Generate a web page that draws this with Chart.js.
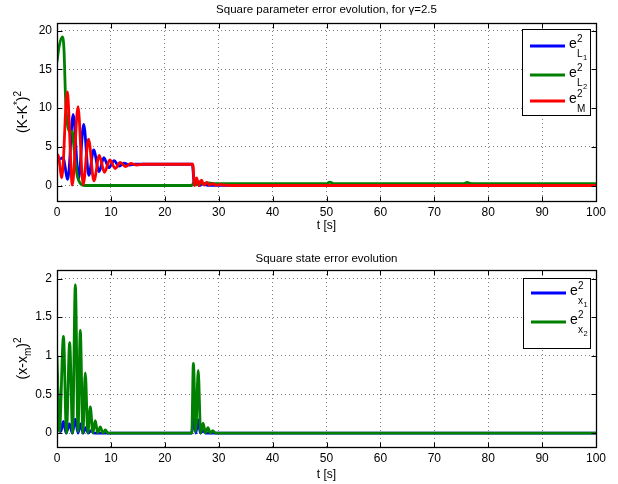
<!DOCTYPE html>
<html>
<head>
<meta charset="utf-8">
<script src="https://cdn.jsdelivr.net/npm/chart.js@4.4.0/dist/chart.umd.min.js"></script>
<style>
  html, body { margin: 0; padding: 0; background: #fff; }
  #wrap { position: relative; width: 618px; height: 484px; }
  #wrap canvas { position: absolute; left: 0; }
</style>
</head>
<body>
<div id="wrap">
  <canvas id="paramChart" width="618" height="242" style="top:0"></canvas>
  <canvas id="stateChart" width="618" height="242" style="top:242px"></canvas>
</div>
<script>
const FONT = '"Liberation Sans", Arial, Helvetica, sans-serif';

// tick values
const xTicks = [0, 10, 20, 30, 40, 50, 60, 70, 80, 90, 100];
const paramTicks = [0, 5, 10, 15, 20];
const stateTicks = [0, 0.5, 1, 1.5, 2];

// top plot: square parameter errors (time [s], value)
const eL1Time = [0, 0.5, 1.1, 2.0, 3.0, 4.0, 4.95, 5.9, 6.8, 7.8, 8.7, 9.6, 10.6, 11.5, 12.4, 13.4, 14.5, 25.1, 25.5, 26.0, 26.5, 27.0, 28, 100];
const eL1Vals = [4.0, 3.4, 3.6, 0.8, 9.2, 0.9, 7.9, 1.3, 4.6, 1.8, 3.6, 2.3, 3.2, 2.5, 2.9, 2.65, 2.75, 2.75, 0.05, 0.4, 0.0, 0.2, 0.03, 0.03];

const eL2Time = [0, 0.4, 1.0, 1.3, 1.6, 1.9, 2.3, 2.8, 3.2, 3.7, 4.3, 5.2, 25.0, 25.4, 25.9, 26.5, 27.1, 27.8, 29, 50, 50.6, 51.3, 75.5, 76.1, 76.8, 100];
const eL2Vals = [16.0, 18.0, 19.2, 17.5, 11.0, 8.1, 7.0, 7.0, 4.5, 1.5, 0.3, 0.0, 0.0, 0.4, 0.1, 0.5, 0.2, 0.35, 0.25, 0.25, 0.45, 0.25, 0.25, 0.4, 0.25, 0.25];

const eMTime = [0, 0.3, 0.9, 1.9, 2.85, 3.9, 4.85, 5.85, 6.85, 7.85, 8.8, 9.8, 10.8, 11.7, 12.7, 13.7, 14.8, 16, 25.2, 25.5, 25.9, 26.3, 26.8, 27.3, 27.8, 28.3, 28.9, 29.5, 30.5, 32, 100];
const eMVals = [4.0, 3.7, 1.0, 12.1, 0.05, 10.2, 0.1, 6.0, 0.6, 3.9, 1.7, 3.3, 2.2, 3.0, 2.45, 2.85, 2.65, 2.75, 2.75, 0.0, 1.0, 0.0, 0.7, 0.05, 0.4, 0.05, 0.25, 0.05, 0.1, 0.0, 0.0];

// bottom plot: square state errors
const ex1Time = [0, 0.3, 0.7, 1.2, 1.7, 2.3, 2.85, 3.4, 3.9, 4.35, 4.85, 5.3, 5.8, 6.3, 7, 25.0, 25.35, 25.75, 26.2, 26.6, 27.1, 27.6, 100];
const ex1Vals = [0.78, 0.35, 0.02, 0.15, 0.0, 0.12, 0.0, 0.18, 0.0, 0.12, 0.0, 0.07, 0.0, 0.03, 0.0, 0.0, 0.2, 0.0, 0.17, 0.0, 0.03, 0.0, 0.0];

const ex2Time = [0, 0.45, 1.2, 1.75, 2.35, 2.9, 3.4, 3.9, 4.32, 4.8, 5.25, 5.72, 6.18, 6.65, 7.1, 7.55, 8.03, 8.5, 8.96, 9.45, 10.5, 25.0, 25.3, 25.75, 26.2, 26.65, 27.1, 27.55, 28.0, 28.45, 28.9, 29.4, 100];
const ex2Vals = [1.0, 0.02, 1.25, 0.0, 1.17, 0.0, 1.92, 0.02, 1.33, 0.0, 0.78, 0.0, 0.34, 0.0, 0.16, 0.0, 0.08, 0.0, 0.04, 0.0, 0.0, 0.0, 0.9, 0.02, 0.81, 0.0, 0.13, 0.0, 0.07, 0.0, 0.03, 0.0, 0.0];

const BLUE = '#0000ff';
const GREEN = '#008000';
const RED = '#ff0000';

function toPoints(ts, vs) {
    return ts.map((t, i) => ({ x: t, y: vs[i] }));
}

function series(label, ts, vs, color, order) {
    return {
        label,
        data: toPoints(ts, vs),
        borderColor: color,
        backgroundColor: color,
        borderWidth: 2.8,
        pointRadius: 0,
        cubicInterpolationMode: 'monotone',
        fill: false,
        order
    };
}

// text made of pieces: [text, 'n' | 'sup' | 'sub']
function pieceFont(kind, size) {
    return (kind === 'n' ? size : Math.round(size * 0.72)) + 'px ' + FONT;
}
function piecesWidth(ctx, pieces, size) {
    let w = 0;
    pieces.forEach(([s, k]) => { ctx.font = pieceFont(k, size); w += ctx.measureText(s).width; });
    return w;
}
function drawPieces(ctx, pieces, x, y, size) {
    pieces.forEach(([s, k]) => {
        ctx.font = pieceFont(k, size);
        const dy = k === 'sup' ? -size * 0.45 : k === 'sub' ? size * 0.3 : 0;
        ctx.fillText(s, x, y + dy);
        x += ctx.measureText(s).width;
    });
}

function drawLegendLabel(ctx, x, y, sub, subsub) {
    ctx.font = '14px ' + FONT;
    ctx.fillText('e', x, y);
    const ex = x + ctx.measureText('e').width + 0.3;
    ctx.font = '10px ' + FONT;
    ctx.fillText('2', ex, y - 6);
    ctx.fillText(sub, ex, y + 9);
    if (subsub) {
        const sx = ex + ctx.measureText(sub).width + 0.3;
        ctx.font = '7.5px ' + FONT;
        ctx.fillText(subsub, sx, y + 11.5);
    }
}

// MATLAB-like frame: box, inward ticks, title, labels, legend
const matlabFrame = {
    id: 'matlabFrame',
    afterDatasetsDraw(chart, args, opts) {
        const { ctx, chartArea: a, scales } = chart;
        const L = Math.round(a.left) + 0.5, R = Math.round(a.right) + 0.5;
        const T = Math.round(a.top) + 0.5, B = Math.round(a.bottom) + 0.5;
        ctx.save();
        ctx.strokeStyle = '#000';
        ctx.fillStyle = '#000';

        // inward ticks
        ctx.lineWidth = 1;
        ctx.beginPath();
        xTicks.forEach(v => {
            const px = Math.round(scales.x.getPixelForValue(v)) + 0.5;
            ctx.moveTo(px, B); ctx.lineTo(px, B - 5);
            ctx.moveTo(px, T); ctx.lineTo(px, T + 5);
        });
        opts.yTicks.forEach(v => {
            const py = Math.round(scales.y.getPixelForValue(v)) + 0.5;
            ctx.moveTo(L, py); ctx.lineTo(L + 5, py);
            ctx.moveTo(R, py); ctx.lineTo(R - 5, py);
        });
        ctx.stroke();

        // box
        ctx.lineWidth = 1.3;
        ctx.strokeRect(L, T, R - L, B - T);

        const cx = (a.left + a.right) / 2;
        ctx.textBaseline = 'middle';
        ctx.textAlign = 'center';
        ctx.font = '11.5px ' + FONT;
        ctx.fillText(opts.title, cx, opts.titleY);
        ctx.font = '12px ' + FONT;
        ctx.fillText('t [s]', cx, opts.xLabelY);

        // rotated y label
        ctx.save();
        ctx.translate(opts.yLabelX, (a.top + a.bottom) / 2);
        ctx.rotate(-Math.PI / 2);
        ctx.textAlign = 'left';
        ctx.textBaseline = 'alphabetic';
        const w = piecesWidth(ctx, opts.yLabel, 14);
        drawPieces(ctx, opts.yLabel, -w / 2, 5, 14);
        ctx.restore();

        // legend
        const lg = opts.legend;
        ctx.fillStyle = '#fff';
        ctx.fillRect(lg.x, lg.y, lg.w, lg.h);
        ctx.lineWidth = 1;
        ctx.strokeStyle = '#000';
        ctx.strokeRect(lg.x + 0.5, lg.y + 0.5, lg.w, lg.h);
        ctx.textAlign = 'left';
        ctx.textBaseline = 'alphabetic';
        lg.items.forEach(it => {
            ctx.strokeStyle = it.color;
            ctx.lineWidth = 2.8;
            ctx.beginPath();
            ctx.moveTo(lg.x + 8, it.y);
            ctx.lineTo(lg.x + 43, it.y);
            ctx.stroke();
            ctx.fillStyle = '#000';
            drawLegendLabel(ctx, lg.x + 47, it.y + 2, it.sub, it.subsub);
        });
        ctx.restore();
    }
};

function axesOptions(yMin, yMax, yTicks, top, xHeight, frame) {
    return {
        responsive: false,
        animation: false,
        layout: { padding: { left: 0, right: 22, top: top, bottom: 0 } },
        scales: {
            x: {
                type: 'linear',
                min: 0,
                max: 100,
                afterBuildTicks: s => { s.ticks = xTicks.map(v => ({ value: v })); },
                afterFit: s => { s.height = xHeight; },
                grid: { color: 'rgba(0,0,0,0.5)', drawTicks: false, lineWidth: 1 },
                border: { display: false, dash: [1, 3] },
                ticks: { color: '#000', font: { family: FONT, size: 12 }, padding: 4, autoSkip: false, maxRotation: 0, callback: v => String(v) }
            },
            y: {
                type: 'linear',
                min: yMin,
                max: yMax,
                afterBuildTicks: s => { s.ticks = yTicks.map(v => ({ value: v })); },
                afterFit: s => { s.width = 57; },
                grid: { color: 'rgba(0,0,0,0.5)', drawTicks: false, lineWidth: 1 },
                border: { display: false, dash: [1, 3] },
                ticks: { color: '#000', font: { family: FONT, size: 12 }, padding: 5, callback: v => String(v) }
            }
        },
        plugins: {
            legend: { display: false },
            title: { display: false },
            tooltip: { enabled: false },
            matlabFrame: frame
        }
    };
}

new Chart(document.getElementById('paramChart'), {
    type: 'line',
    data: {
        datasets: [
            series('e_L1', eL1Time, eL1Vals, BLUE, 2),
            series('e_L2', eL2Time, eL2Vals, GREEN, 1),
            series('e_M', eMTime, eMVals, RED, 0)
        ]
    },
    options: axesOptions(-2, 21, paramTicks, 23, 41, {
        yTicks: paramTicks,
        title: 'Square parameter error evolution, for \u03b3=2.5',
        titleY: 10,
        xLabelY: 226,
        yLabelX: 22,
        yLabel: [['(K-K', 'n'], ['*', 'sup'], [')', 'n'], ['2', 'sup']],
        legend: {
            x: 522, y: 29, w: 68, h: 86,
            items: [
                { color: BLUE, y: 46, sub: 'L', subsub: '1' },
                { color: GREEN, y: 75, sub: 'L', subsub: '2' },
                { color: RED, y: 101, sub: 'M' }
            ]
        }
    }),
    plugins: [matlabFrame]
});

new Chart(document.getElementById('stateChart'), {
    type: 'line',
    data: {
        datasets: [
            series('e_x1', ex1Time, ex1Vals, BLUE, 1),
            series('e_x2', ex2Time, ex2Vals, GREEN, 0)
        ]
    },
    options: axesOptions(-0.18, 2.11, stateTicks, 28, 37, {
        yTicks: stateTicks,
        title: 'Square state error evolution',
        titleY: 17,
        xLabelY: 233,
        yLabelX: 22,
        yLabel: [['(x-x', 'n'], ['m', 'sub'], [')', 'n'], ['2', 'sup']],
        legend: {
            x: 523, y: 36, w: 67, h: 70,
            items: [
                { color: BLUE, y: 51, sub: 'x', subsub: '1' },
                { color: GREEN, y: 80, sub: 'x', subsub: '2' }
            ]
        }
    }),
    plugins: [matlabFrame]
});
</script>
</body>
</html>
